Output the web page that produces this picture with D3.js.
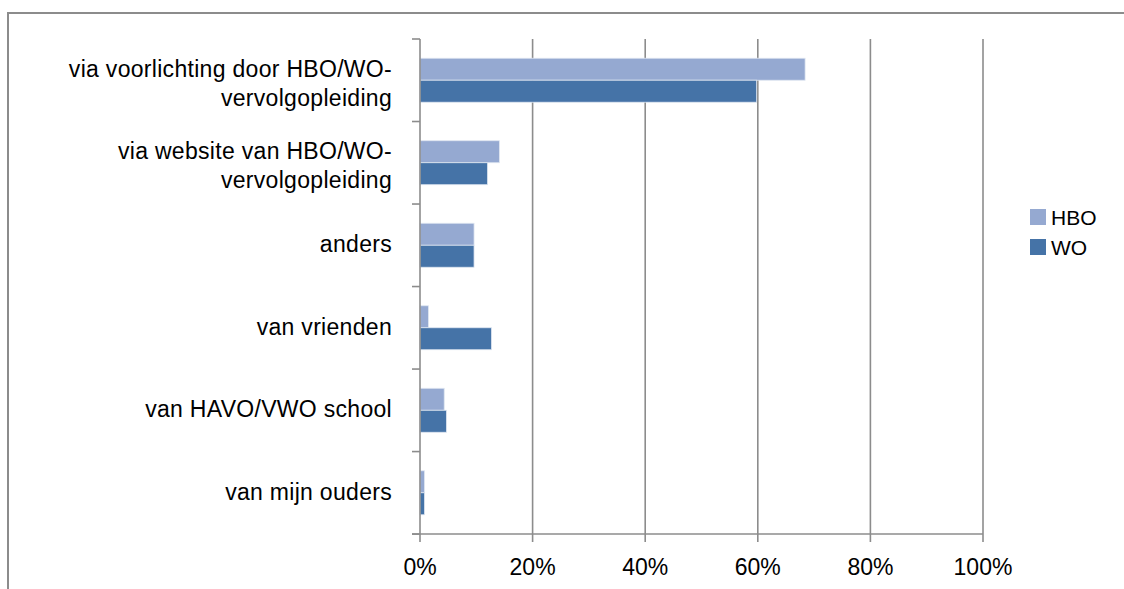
<!DOCTYPE html>
<meta charset="utf-8">
<script src="https://d3js.org/d3.v7.min.js"></script>
<style>
  body { margin: 0; background: #fff; }
  text { font-family: "Liberation Sans", Arial, sans-serif; fill: #000; }
</style>
<div id="my_dataviz"></div>
<script>

// data
var categories = [
  ["via voorlichting door HBO/WO-", "vervolgopleiding"],
  ["via website van HBO/WO-", "vervolgopleiding"],
  ["anders"],
  ["van vrienden"],
  ["van HAVO/VWO school"],
  ["van mijn ouders"]
];
var series = ["HBO", "WO"];
var hboValues = [0.684, 0.141, 0.096, 0.015, 0.043, 0.008];
var woValues  = [0.598, 0.120, 0.096, 0.127, 0.047, 0.008];
var xTicks = [0, 0.2, 0.4, 0.6, 0.8, 1];
var colors = ["#95a9d1", "#4573a7"];

var width = 1124, height = 589;
var plot = {left: 420, right: 983, top: 39, bottom: 534};

var svg = d3.select("#my_dataviz")
  .append("svg")
  .attr("width", width)
  .attr("height", height);

// outer frame (top and left edge only are visible)
svg.append("path")
  .attr("d", "M8," + height + "V13H" + width)
  .attr("fill", "none")
  .attr("stroke", "#8c8c8c")
  .attr("stroke-width", 2);

var x = d3.scaleLinear().domain([0, 1]).range([plot.left, plot.right]);
var y = d3.scaleBand()
  .domain(d3.range(categories.length))
  .range([plot.top, plot.bottom])
  .paddingInner(0.467)
  .paddingOuter(0.233);
var ySeries = d3.scaleBand().domain(series).range([0, y.bandwidth()]);

// gridlines
svg.append("g")
  .selectAll("line")
  .data(xTicks.slice(1))
  .enter()
  .append("line")
  .attr("x1", function(d) { return x(d); })
  .attr("x2", function(d) { return x(d); })
  .attr("y1", plot.top)
  .attr("y2", plot.bottom)
  .attr("stroke", "#8c8c8c")
  .attr("stroke-width", 1.6);

// bars
var rows = categories.map(function(c, i) {
  return [{s: "HBO", v: hboValues[i]}, {s: "WO", v: woValues[i]}];
});
svg.append("g")
  .selectAll("g")
  .data(rows)
  .enter()
  .append("g")
  .attr("transform", function(d, i) { return "translate(0," + y(i) + ")"; })
  .selectAll("rect")
  .data(function(d) { return d; })
  .enter()
  .append("rect")
  .attr("x", x(0))
  .attr("y", function(d) { return ySeries(d.s); })
  .attr("width", function(d) { return x(d.v) - x(0); })
  .attr("height", ySeries.bandwidth())
  .attr("fill", function(d) { return d.s == "HBO" ? colors[0] : colors[1]; })
  .attr("stroke", "#dfe6f1")
  .attr("stroke-width", 0.8);

// y axis with ticks between categories
var step = y.step();
var yAxis = svg.append("g").attr("stroke", "#8c8c8c").attr("stroke-width", 1.6);
yAxis.append("line")
  .attr("x1", plot.left).attr("x2", plot.left)
  .attr("y1", plot.top).attr("y2", plot.bottom);
yAxis.selectAll(".tk")
  .data(d3.range(categories.length + 1))
  .enter()
  .append("line")
  .attr("x1", plot.left - 8).attr("x2", plot.left)
  .attr("y1", function(d) { return plot.top + d * step; })
  .attr("y2", function(d) { return plot.top + d * step; });

// x axis
var xAxis = svg.append("g").attr("stroke", "#8c8c8c").attr("stroke-width", 1.6);
xAxis.append("line")
  .attr("x1", plot.left - 8).attr("x2", plot.right)
  .attr("y1", plot.bottom).attr("y2", plot.bottom);
xAxis.selectAll(".tk")
  .data(xTicks)
  .enter()
  .append("line")
  .attr("x1", function(d) { return x(d); })
  .attr("x2", function(d) { return x(d); })
  .attr("y1", plot.bottom).attr("y2", plot.bottom + 8);

svg.append("g")
  .selectAll("text")
  .data(xTicks)
  .enter()
  .append("text")
  .attr("x", function(d) { return x(d); })
  .attr("y", 575)
  .attr("text-anchor", "middle")
  .attr("font-size", 23)
  .text(function(d) { return d3.format(".0%")(d); });

// category labels
var labels = svg.append("g")
  .selectAll("text")
  .data(categories)
  .enter()
  .append("text")
  .attr("text-anchor", "end")
  .attr("font-size", 23)
  .attr("letter-spacing", 0.3)
  .attr("y", function(d, i) { return y(i) + y.bandwidth() / 2; });
labels.selectAll("tspan")
  .data(function(d) { return d; })
  .enter()
  .append("tspan")
  .attr("x", 392)
  .attr("dy", function(t, j, nodes) {
    var n = nodes.length;
    return j == 0 ? (-(n - 1) * 29 / 2 + 7 + (n - 1) * 4) : 29;
  })
  .text(function(t) { return t; });

// legend
var legend = svg.append("g")
  .selectAll("g")
  .data(series)
  .enter()
  .append("g")
  .attr("transform", function(d, i) { return "translate(1030," + (209 + i * 30) + ")"; });
legend.append("rect")
  .attr("width", 16).attr("height", 16)
  .attr("fill", function(d, i) { return colors[i]; });
legend.append("text")
  .attr("x", 21).attr("y", 16)
  .attr("font-size", 21)
  .text(function(d) { return d; });

</script>
